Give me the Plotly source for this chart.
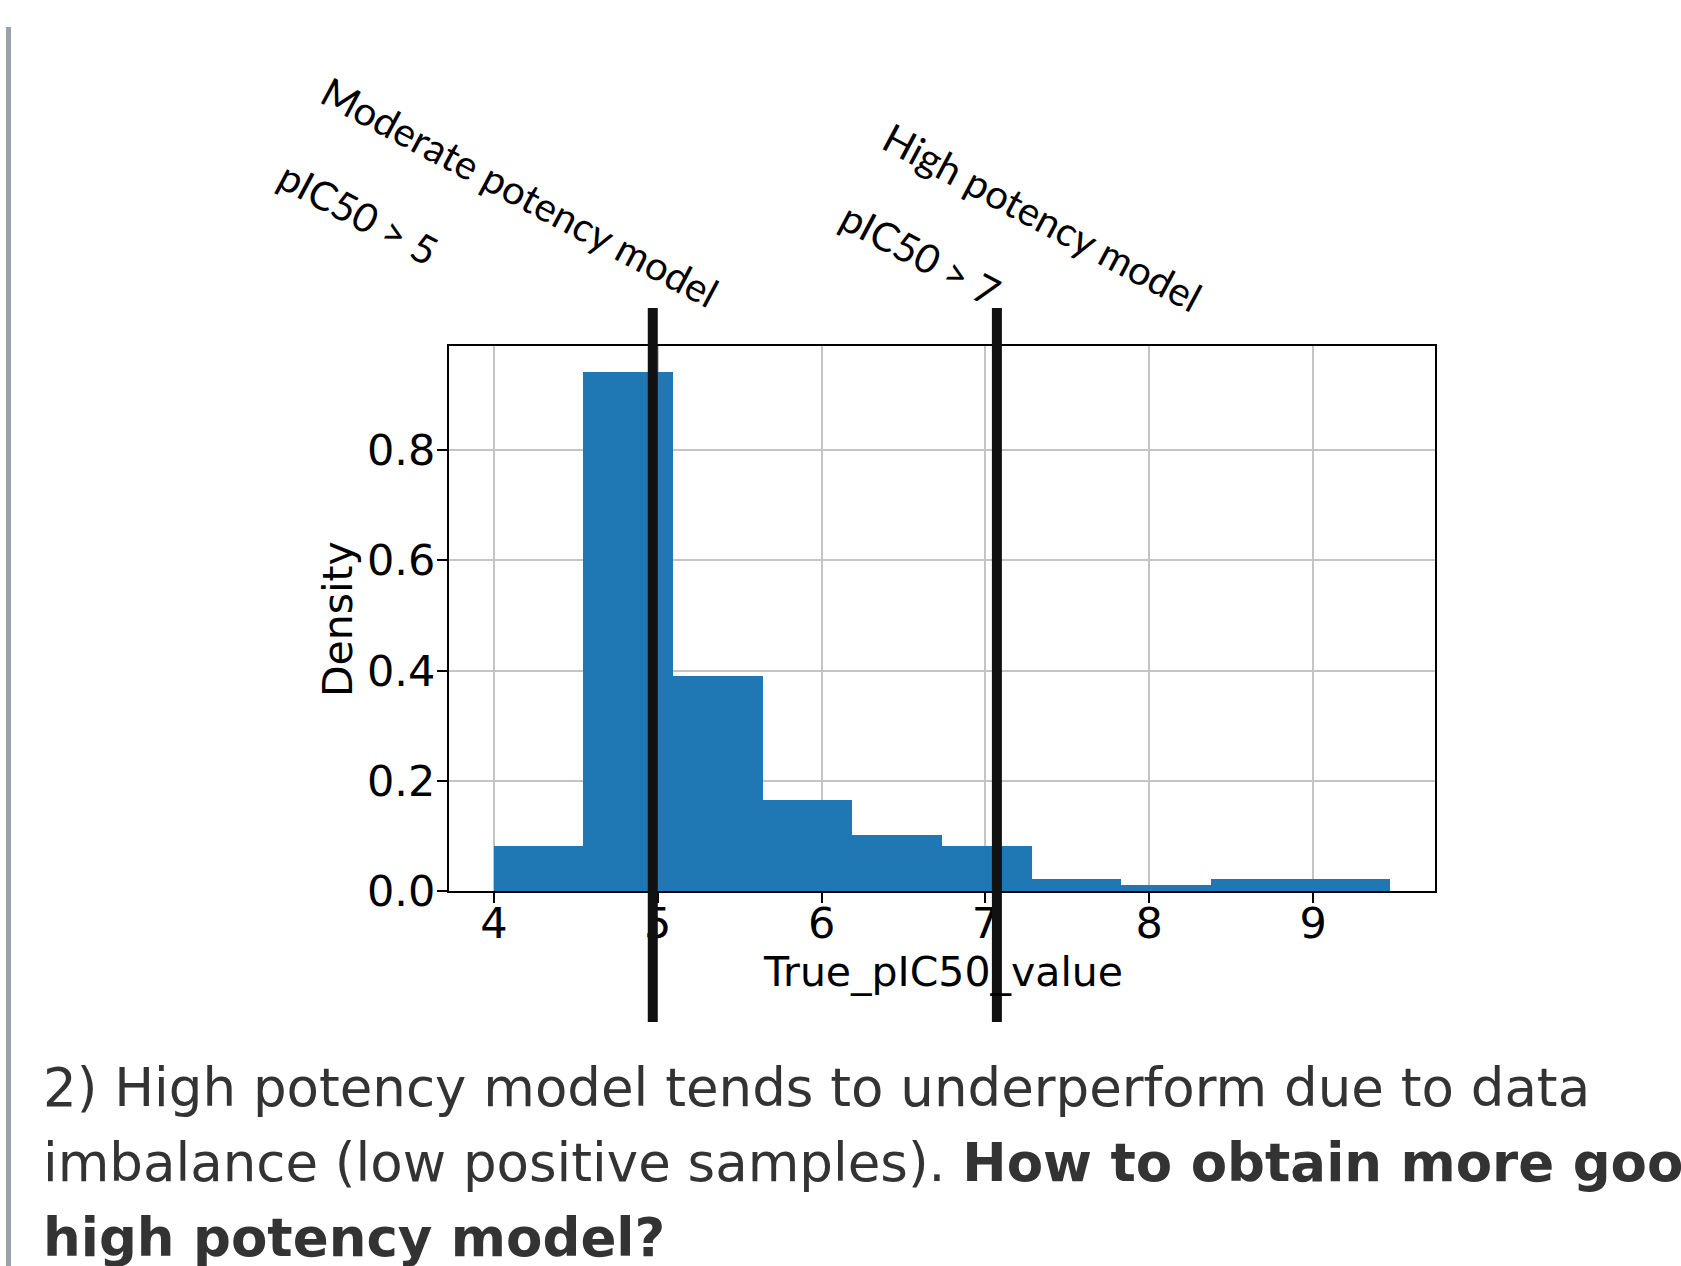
import plotly.graph_objects as go

# ---- data ----
bin_edges = [4.0, 4.547, 5.094, 5.641, 6.188, 6.735, 7.282, 7.829, 8.376, 8.923, 9.47]
density = [0.082, 0.941, 0.390, 0.166, 0.101, 0.082, 0.021, 0.010, 0.021, 0.021]
threshold_lines = [4.97, 7.07]
x_ticks = [4, 5, 6, 7, 8, 9]
y_ticks = [0.0, 0.2, 0.4, 0.6, 0.8]

W, H = 1681, 1266
L, R, T, B = 449, 1435, 346, 891  # plot area in pixels


def px(xp):
    return (xp - L) / (R - L)


def py(yp):
    return (B - yp) / (B - T)


centers = [(a + b) / 2 for a, b in zip(bin_edges[:-1], bin_edges[1:])]
widths = [b - a for a, b in zip(bin_edges[:-1], bin_edges[1:])]

fig = go.Figure()
fig.add_trace(go.Bar(x=centers, y=density, width=widths,
                     marker=dict(color="#1f77b4", line=dict(width=0)),
                     showlegend=False, hoverinfo="skip"))

axis_common = dict(
    showline=True, mirror=True, linecolor="black", linewidth=2,
    showgrid=True, gridcolor="#c4c4c4", gridwidth=2,
    ticks="outside", ticklen=10, tickwidth=2, tickcolor="black",
    tickfont=dict(family="DejaVu Sans", size=43, color="black"),
    zeroline=False, layer="above traces",
)

fig.update_layout(
    width=W, height=H,
    margin=dict(l=L, r=W - R, t=T, b=H - B, pad=0),
    paper_bgcolor="white", plot_bgcolor="white",
    bargap=0,
    xaxis=dict(range=[3.7265, 9.7435], tickvals=x_ticks,
               ticktext=[str(v) for v in x_ticks], ticklabelstandoff=-17,
               **axis_common),
    yaxis=dict(range=[0, 0.9888], tickvals=y_ticks,
               ticktext=[f"{v:.1f}" for v in y_ticks], ticklabelstandoff=-7,
               **axis_common),
)

# vertical threshold bars
for xv in threshold_lines:
    fig.add_shape(type="line", xref="x", yref="paper", x0=xv, x1=xv,
                  y0=py(1022), y1=py(308), line=dict(color="#111111", width=10),
                  layer="above")

# left gray quote bar
fig.add_shape(type="rect", xref="paper", yref="paper",
              x0=px(6), x1=px(11), y0=py(1266), y1=py(27),
              fillcolor="#98a2ad", line=dict(width=0), layer="above")

ann_font = dict(family="Lato", size=40, color="black")
labels = [
    ("Moderate potency model", 520, 192),
    ("pIC50 > 5", 358, 213),
    ("High potency model", 1042, 217),
    ("pIC50 > 7", 920, 254),
]
for txt, cx, cy in labels:
    fig.add_annotation(text=txt, xref="paper", yref="paper", x=px(cx), y=py(cy),
                       xanchor="center", yanchor="middle", textangle=28,
                       showarrow=False, font=ann_font)

# axis titles
fig.add_annotation(text="Density", xref="paper", yref="paper", x=px(338), y=py(619),
                   xanchor="center", yanchor="middle", textangle=-90, showarrow=False,
                   font=dict(family="DejaVu Sans", size=41, color="black"))
fig.add_annotation(text="True_pIC50_value", xref="paper", yref="paper", x=px(943), y=py(972),
                   xanchor="center", yanchor="middle", showarrow=False,
                   font=dict(family="DejaVu Sans", size=41, color="black"))

# paragraph text below
body_font = dict(family="DejaVu Sans", size=53, color="#333333")
lines = [
    ("2) High potency model tends to underperform due to data", 1087),
    ("imbalance (low positive samples). <b>How to obtain more goo</b>", 1162),
    ("<b>high potency model?</b>", 1237),
]
for txt, cy in lines:
    fig.add_annotation(text=txt, xref="paper", yref="paper", x=px(41), y=py(cy),
                       xanchor="left", yanchor="middle", showarrow=False,
                       font=body_font)

fig.write_html("out.html", config={"displayModeBar": False},
               post_script="document.body.style.margin='0';document.body.style.padding='0';")
